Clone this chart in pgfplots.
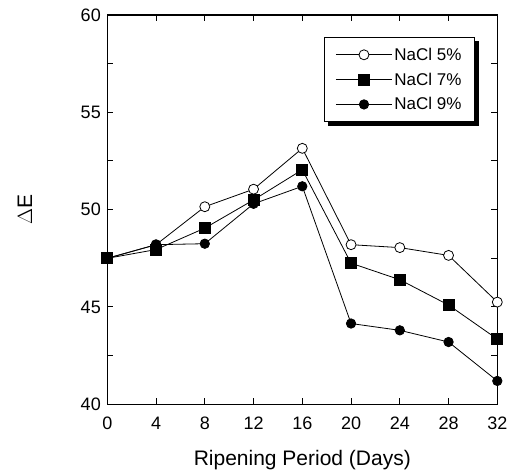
\documentclass[border=0pt]{standalone}
\usepackage{fontspec}
\setmainfont{Liberation Sans}
\usepackage{pgfplots}
\pgfplotsset{compat=1.18}
\begin{document}
\begin{tikzpicture}
\useasboundingbox (-107.3pt,-68.7pt) rectangle (402.7pt,404.3pt);
\begin{axis}[
  at={(0pt,0pt)}, anchor=south west,
  scale only axis, width=390pt, height=389.3pt,
  xmin=0, xmax=32, ymin=40, ymax=60,
  xtick={0,4,...,32},
  ytick={40,45,...,60},
  minor y tick num=1,
  tick align=inside,
  major tick length=6pt, minor tick length=6pt,
  tick style={line width=1pt, black},
  axis line style={line width=1.4pt},
  clip=false,
  /pgf/number format/assume math mode=true,
  tick label style={font=\fontsize{18}{20}\selectfont},
  xticklabel style={yshift=-9pt},
  yticklabel style={xshift=-3pt},
  xlabel={Ripening Period (Days)},
  ylabel={$\Delta$E},
  xlabel style={font=\fontsize{21}{24}\selectfont, at={(axis description cs:0.5,-0.156)}, anchor=base},
  ylabel style={font=\fontsize{21}{24}\selectfont, at={(axis description cs:-0.211,0.5)}, anchor=center},
  legend style={name=leg, at={(rel axis cs:0.943,0.944)}, anchor=north east,
    draw=black, line width=1.2pt, fill=white,
    font=\fontsize{17}{19}\selectfont, row sep=7pt,
    inner xsep=11pt, inner ysep=8.5pt, cells={anchor=west, inner sep=0pt},
    /tikz/every even column/.append style={column sep=7pt}},
  legend image code/.code={%
    \draw[mark repeat=2,mark phase=2,#1] plot coordinates {(0pt,0pt) (28pt,0pt) (56pt,0pt)};},
  every axis plot/.append style={line width=0.8pt, black},
]
\addplot[mark=*, mark options={fill=white, line width=0.8pt}, mark size=5pt] coordinates {
(0,47.5) (4,48.2) (8,50.15) (12,51.05) (16,53.15) (20,48.2) (24,48.05) (28,47.65) (32,45.25)};
\addplot[mark=square*, mark options={fill=black}, mark size=5.5pt] coordinates {
(0,47.5) (4,47.95) (8,49.05) (12,50.5) (16,52.05) (20,47.25) (24,46.4) (28,45.1) (32,43.35)};
\addplot[mark=*, mark options={fill=black}, mark size=4.7pt] coordinates {
(0,47.5) (4,48.2) (8,48.25) (12,50.3) (16,51.2) (20,44.15) (24,43.8) (28,43.2) (32,41.2)};
\legend{NaCl 5\%, NaCl 7\%, NaCl 9\%}
\end{axis}
\fill[black] ([xshift=4pt,yshift=-4pt]leg.south west) rectangle ([xshift=4pt]leg.south east);
\fill[black] ([yshift=-4pt]leg.north east) rectangle ([xshift=4pt,yshift=-4pt]leg.south east);
\end{tikzpicture}
\end{document}
